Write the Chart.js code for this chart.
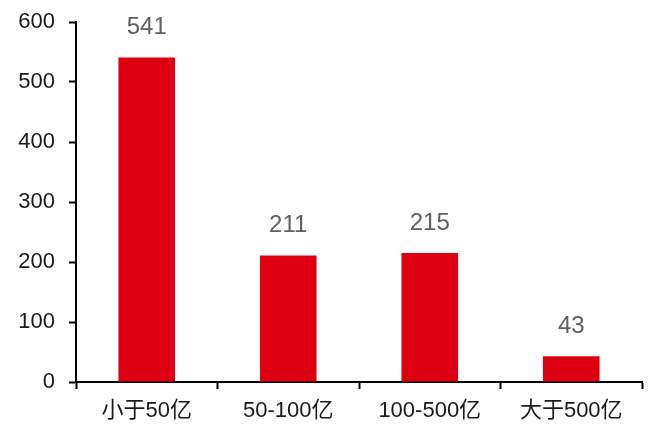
<!DOCTYPE html>
<html>
<head>
<meta charset="utf-8">
<script src="https://cdn.jsdelivr.net/npm/chart.js@4/dist/chart.umd.min.js"></script>
<style>
  html, body { margin: 0; padding: 0; background: #fff; }
  canvas { display: block; }
</style>
</head>
<body>
<canvas id="barChart" width="651" height="441"></canvas>
<script>
const categories = ['小于50亿', '50-100亿', '100-500亿', '大于500亿']
const counts = [541, 211, 215, 43]
const yTicks = [0, 100, 200, 300, 400, 500, 600]

const fontFamily = '"Liberation Sans", Arial, "Noto Sans CJK SC", sans-serif'

// draw value above each bar
const valueLabels = {
    id: 'valueLabels',
    afterDatasetsDraw(chart) {
        const ctx = chart.ctx
        const meta = chart.getDatasetMeta(0)
        ctx.save()
        ctx.fillStyle = '#5f5f5f'
        ctx.font = '24px ' + fontFamily
        ctx.textAlign = 'center'
        ctx.textBaseline = 'bottom'
        meta.data.forEach((bar, i) => {
            ctx.fillText(counts[i], bar.x, bar.y - 18)
        })
        ctx.restore()
    }
}

const data = {
    labels: categories,
    datasets: [{
        data: counts,
        backgroundColor: '#DD0011',
        borderWidth: 0,
        barPercentage: 0.8,
        categoryPercentage: 0.5
    }]
}

const config = {
    type: 'bar',
    data,
    plugins: [valueLabels],
    options: {
        responsive: false,
        animation: false,
        layout: { padding: { top: 22, right: 9, left: 0, bottom: 0 } },
        plugins: { legend: { display: false }, tooltip: { enabled: false } },
        scales: {
            x: {
                grid: { drawOnChartArea: false, drawTicks: true, tickLength: 7, color: '#000', tickWidth: 2 },
                border: { color: '#000', width: 2 },
                ticks: { color: '#1a1a1a', font: { size: 22, family: fontFamily }, padding: 9, maxRotation: 0 },
                afterFit(scale) { scale.height = 59; scale.paddingLeft = 0; scale.paddingRight = 0 }
            },
            y: {
                min: 0,
                max: 600,
                afterBuildTicks(scale) { scale.ticks = yTicks.map(v => ({ value: v })) },
                grid: { drawOnChartArea: false, drawTicks: true, tickLength: 7, color: '#000', tickWidth: 2 },
                border: { color: '#000', width: 2 },
                ticks: { color: '#1a1a1a', font: { size: 22, family: fontFamily }, padding: 14 },
                afterFit(scale) { scale.width = 76; scale.paddingTop = 0; scale.paddingBottom = 0 }
            }
        }
    }
}

const barChart = new Chart(document.getElementById('barChart'), config)
</script>
</body>
</html>
